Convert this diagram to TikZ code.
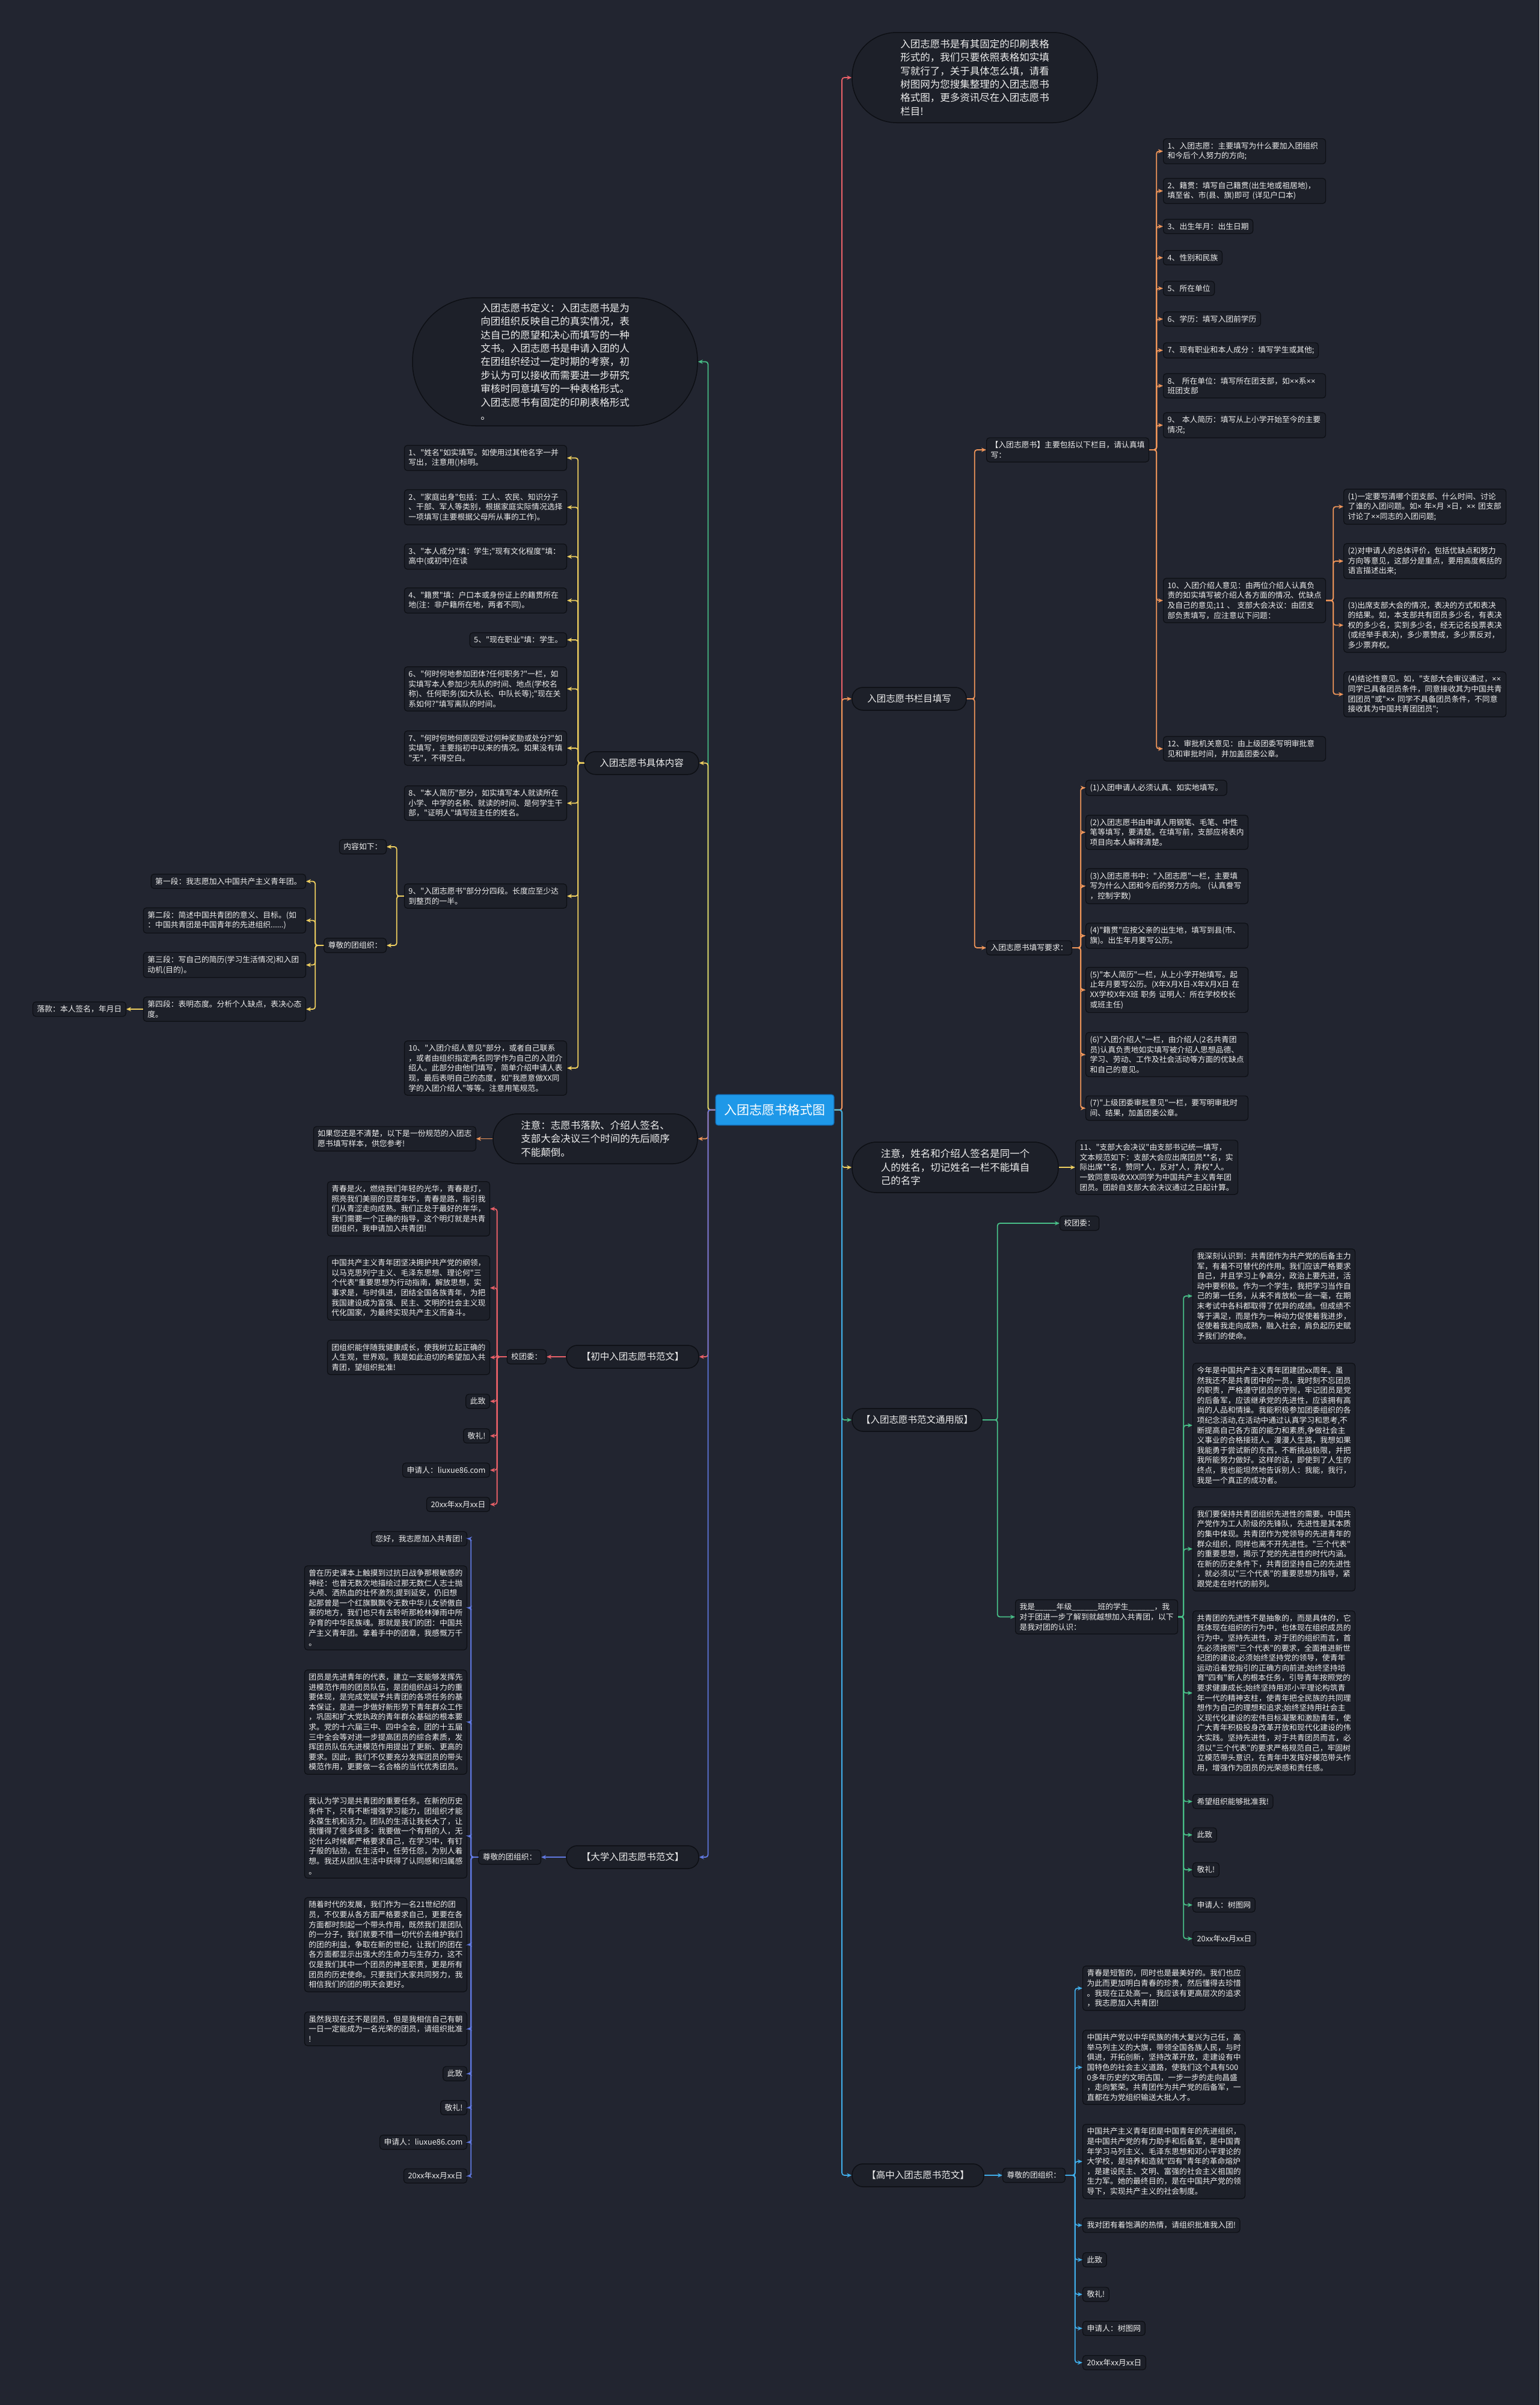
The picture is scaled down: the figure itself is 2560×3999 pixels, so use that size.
\documentclass[tikz,border=0pt]{standalone}
\usepackage{fontspec}
\setmainfont{Noto Sans CJK SC}[Ligatures=TeXOff]
\newfontfamily\latinfont{Liberation Sans}
\newcommand\tm{{\latinfont ×}}
\usetikzlibrary{arrows.meta}
\definecolor{bg}{RGB}{34,37,48}
\definecolor{boxfill}{RGB}{29,32,41}
\definecolor{boxline}{RGB}{13,15,20}
\definecolor{txt}{RGB}{238,238,238}
\definecolor{rootfill}{RGB}{30,152,232}
\definecolor{rootline}{RGB}{18,100,170}
\definecolor{cRed}{RGB}{232,96,104}
\definecolor{cOrange}{RGB}{240,150,90}
\definecolor{cYellow}{RGB}{240,208,96}
\definecolor{cGreen}{RGB}{72,190,135}
\definecolor{cBlue}{RGB}{64,172,232}
\definecolor{cPurple}{RGB}{96,120,224}
\newcommand\fsmall{\fontsize{12.8pt}{16.6pt}\selectfont}
\newcommand\fmid{\fontsize{15.5pt}{20pt}\selectfont}
\newcommand\fbig{\fontsize{16.5pt}{22.4pt}\selectfont}
\newcommand\froot{\fontsize{21pt}{26pt}\selectfont}
\tikzset{
  box/.style={draw=boxline, fill=boxfill, rounded corners=5pt, line width=1.2pt, text=txt, font=\fsmall, inner xsep=7pt, inner ysep=6pt, align=left},
  wbox/.style={box, text width=256pt},
  bubble/.style={draw=boxline, fill=boxfill, line width=1.5pt, text=txt, font=\fbig, align=left, inner sep=0pt},
  pill/.style={draw=boxline, fill=boxfill, line width=1.5pt, text=txt, font=\fmid, minimum height=38pt, rounded corners=18pt, inner xsep=10pt, inner ysep=0pt},
  rootnode/.style={draw=rootline, fill=rootfill, line width=1.2pt, text=white, font=\froot, minimum width=197pt, minimum height=51pt, rounded corners=4pt},
  link/.style={line width=1.8pt, rounded corners=4pt, -{Stealth[length=8pt,width=7pt]}}
}
\begin{document}
\begin{tikzpicture}[x=1pt,y=-1pt]
\fill[bg] (0,0) rectangle (2560,3999);
\useasboundingbox (0,0) rectangle (2560,3999);

% ---------- root ----------
\node[rootnode] (root) at (1288.5,1845.5) {入团志愿书格式图};

% ---------- right level 1 ----------
\node[bubble, minimum width=408pt, minimum height=150pt, rounded corners=74pt] (r1) at (1621,129) {入团志愿书是有其固定的印刷表格\\形式的，我们只要依照表格如实填\\写就行了，关于具体怎么填，请看\\树图网为您搜集整理的入团志愿书\\格式图，更多资讯尽在入团志愿书\\栏目!};
\node[pill, minimum width=190pt] (r2) at (1512,1162) {入团志愿书栏目填写};
\node[bubble, minimum width=343pt, minimum height=84pt, rounded corners=41pt] (r3) at (1588.5,1941) {注意，姓名和介绍人签名是同一个\\人的姓名，切记姓名一栏不能填自\\己的名字};
\node[pill, minimum width=216pt] (r4) at (1525,2361) {【入团志愿书范文通用版】};
\node[pill, minimum width=219pt] (r5) at (1526.5,3617) {【高中入团志愿书范文】};

% ---------- left level 1 ----------
\node[bubble, minimum width=474pt, minimum height=213pt, rounded corners=105pt] (l1) at (923,601.5) {入团志愿书定义：入团志愿书是为\\向团组织反映自己的真实情况，表\\达自己的愿望和决心而填写的一种\\文书。入团志愿书是申请入团的人\\在团组织经过一定时期的考察，初\\步认为可以接收而需要进一步研究\\审核时同意填写的一种表格形式。\\入团志愿书有固定的印刷表格形式\\。};
\node[pill, minimum width=190pt] (l2) at (1067,1268.75) {入团志愿书具体内容};
\node[bubble, minimum width=340pt, minimum height=83pt, rounded corners=41pt] (l3) at (990,1893.5) {注意：志愿书落款、介绍人签名、\\支部大会决议三个时间的先后顺序\\不能颠倒。};
\node[pill, minimum width=220pt] (l4) at (1052,2256) {【初中入团志愿书范文】};
\node[pill, minimum width=220pt] (l5) at (1052,3088) {【大学入团志愿书范文】};

% ---------- R2 subtree ----------
\node[wbox, anchor=west] (r2a) at (1640,748) {【入团志愿书】主要包括以下栏目，请认真填\\写：};
\node[box, anchor=west] (r2b) at (1640,1576) {入团志愿书填写要求：};

\node[wbox, anchor=west] (ra1) at (1934,251.5) {1、入团志愿：主要填写为什么要加入团组织\\和今后个人努力的方向;};
\node[wbox, anchor=west] (ra2) at (1934,317.5) {2、籍贯：填写自己籍贯(出生地或祖居地)，\\填至省、市(县、旗)即可 (详见户口本)};
\node[box, anchor=west] (ra3) at (1934,376.5) {3、出生年月：出生日期};
\node[box, anchor=west] (ra4) at (1934,428.5) {4、性别和民族};
\node[box, anchor=west] (ra5) at (1934,479.5) {5、所在单位};
\node[box, anchor=west] (ra6) at (1934,530.5) {6、学历：填写入团前学历};
\node[box, anchor=west] (ra7) at (1934,582.5) {7、现有职业和本人成分 ：填写学生或其他;};
\node[wbox, anchor=west] (ra8) at (1934,641.5) {8、 所在单位：填写所在团支部，如\tm\tm 系\tm\tm\\班团支部};
\node[wbox, anchor=west] (ra9) at (1934,707) {9、 本人简历：填写从上小学开始至今的主要\\情况;};
\node[wbox, anchor=west] (ra10) at (1934,998.5) {10、入团介绍人意见：由两位介绍人认真负\\责的如实填写被介绍人各方面的情况、优缺点\\及自己的意见;11 、 支部大会决议：由团支\\部负责填写，应注意以下问题：};
\node[wbox, anchor=west] (ra12) at (1934,1245) {12、审批机关意见：由上级团委写明审批意\\见和审批时间，并加盖团委公章。};

\node[wbox, anchor=west] (sb1) at (2234,842.5) {(1)一定要写清哪个团支部、什么时间、讨论\\了谁的入团问题。如\tm\ 年\tm 月 \tm 日，\tm\tm\ 团支部\\讨论了\tm\tm 同志的入团问题;};
\node[wbox, anchor=west] (sb2) at (2234,933) {(2)对申请人的总体评价，包括优缺点和努力\\方向等意见，这部分是重点，要用高度概括的\\语言描述出来;};
\node[wbox, anchor=west] (sb3) at (2234,1039.5) {(3)出席支部大会的情况，表决的方式和表决\\的结果。如，本支部共有团员多少名，有表决\\权的多少名，实到多少名，经无记名投票表决\\(或经举手表决)，多少票赞成，多少票反对，\\多少票弃权。};
\node[wbox, anchor=west] (sb4) at (2234,1154.5) {(4)结论性意见。如，"支部大会审议通过，\tm\tm\\同学已具备团员条件，同意接收其为中国共青\\团团员"或"\tm\tm\ 同学不具备团员条件，不同意\\接收其为中国共青团团员";};

\node[box, anchor=west] (rb1) at (1805,1310) {(1)入团申请人必须认真、如实地填写。};
\node[wbox, anchor=west] (rb2) at (1805,1384) {(2)入团志愿书由申请人用钢笔、毛笔、中性\\笔等填写，要清楚。在填写前，支部应将表内\\项目向本人解释清楚。};
\node[wbox, anchor=west] (rb3) at (1805,1473.5) {(3)入团志愿书中："入团志愿"一栏，主要填\\写为什么入团和今后的努力方向。 (认真誊写\\，控制字数)};
\node[wbox, anchor=west] (rb4) at (1805,1556) {(4)"籍贯"应按父亲的出生地，填写到县(市、\\旗)。出生年月要写公历。};
\node[wbox, anchor=west] (rb5) at (1805,1646) {(5)"本人简历"一栏，从上小学开始填写。起\\止年月要写公历。(X年X月X日-X年X月X日 在\\XX学校X年X班 职务  证明人：所在学校校长\\或班主任)};
\node[wbox, anchor=west] (rb6) at (1805,1753.5) {(6)"入团介绍人"一栏，由介绍人(2名共青团\\员)认真负责地如实填写被介绍人思想品德、\\学习、劳动、工作及社会活动等方面的优缺点\\和自己的意见。};
\node[wbox, anchor=west] (rb7) at (1805,1842.5) {(7)"上级团委审批意见"一栏，要写明审批时\\间、结果，加盖团委公章。};

% ---------- R3 child ----------
\node[wbox, anchor=west] (r3c) at (1788,1941) {11、"支部大会决议"由支部书记统一填写，\\文本规范如下：支部大会应出席团员**名，实\\际出席**名，赞同*人，反对*人，弃权*人。\\一致同意吸收XXX同学为中国共产主义青年团\\团员。团龄自支部大会决议通过之日起计算。};

% ---------- R4 subtree ----------
\node[box, anchor=west] (x4) at (1762,2034) {校团委：};
\node[wbox, anchor=west] (y4) at (1688,2688.5) {我是\_\_\_\_\_年级\_\_\_\_\_\_班的学生\_\_\_\_\_\_，我\\对于团进一步了解到就越想加入共青团，以下\\是我对团的认识：};
\node[wbox, anchor=west] (p1) at (1983,2155) {我深刻认识到：共青团作为共产党的后备主力\\军，有着不可替代的作用。我们应该严格要求\\自己，并且学习上争高分，政治上要先进，活\\动中要积极。作为一个学生，我把学习当作自\\己的第一任务，从来不肯放松一丝一毫，在期\\末考试中各科都取得了优异的成绩。但成绩不\\等于满足，而是作为一种动力促使着我进步，\\促使着我走向成熟，融入社会，肩负起历史赋\\予我们的使命。};
\node[wbox, anchor=west] (p2) at (1983,2370) {今年是中国共产主义青年团建团xx周年。虽\\然我还不是共青团中的一员，我时刻不忘团员\\的职责，严格遵守团员的守则，牢记团员是党\\的后备军，应该继承党的先进性，应该拥有高\\尚的人品和情操。我能积极参加团委组织的各\\项纪念活动,在活动中通过认真学习和思考,不\\断提高自己各方面的能力和素质,争做社会主\\义事业的合格接班人。漫漫人生路，我想如果\\我能勇于尝试新的东西，不断挑战极限，并把\\我所能努力做好。这样的话，即使到了人生的\\终点，我也能坦然地告诉别人：我能，我行，\\我是一个真正的成功者。};
\node[wbox, anchor=west] (p3) at (1983,2575.5) {我们要保持共青团组织先进性的需要。中国共\\产党作为工人阶级的先锋队，先进性是其本质\\的集中体现。共青团作为党领导的先进青年的\\群众组织，同样也离不开先进性。"三个代表"\\的重要思想，揭示了党的先进性的时代内涵。\\在新的历史条件下，共青团坚持自己的先进性\\，就必须以"三个代表"的重要思想为指导，紧\\跟党走在时代的前列。};
\node[wbox, anchor=west] (p4) at (1983,2815) {共青团的先进性不是抽象的，而是具体的，它\\既体现在组织的行为中，也体现在组织成员的\\行为中。坚持先进性，对于团的组织而言，首\\先必须按照"三个代表"的要求，全面推进新世\\纪团的建设;必须始终坚持党的领导，使青年\\运动沿着党指引的正确方向前进;始终坚持培\\育"四有"新人的根本任务，引导青年按照党的\\要求健康成长;始终坚持用邓小平理论构筑青\\年一代的精神支柱，使青年把全民族的共同理\\想作为自己的理想和追求;始终坚持用社会主\\义现代化建设的宏伟目标凝聚和激励青年，使\\广大青年积极投身改革开放和现代化建设的伟\\大实践。坚持先进性，对于共青团员而言，必\\须以"三个代表"的要求严格规范自己，牢固树\\立模范带头意识，在青年中发挥好模范带头作\\用，增强作为团员的光荣感和责任感。};
\node[box, anchor=west] (p5) at (1983,2995.5) {希望组织能够批准我!};
\node[box, anchor=west] (p6) at (1983,3051) {此致};
\node[box, anchor=west] (p7) at (1983,3109) {敬礼!};
\node[box, anchor=west] (p8) at (1983,3167.5) {申请人：树图网};
\node[box, anchor=west] (p9) at (1983,3223.5) {20xx年xx月xx日};

% ---------- R5 subtree ----------
\node[box, anchor=west] (z5) at (1667,3617) {尊敬的团组织：};
\node[wbox, anchor=west] (b1) at (1800,3306) {青春是短暂的，同时也是最美好的。我们也应\\为此而更加明白青春的珍贵，然后懂得去珍惜\\。我现在正处高一，我应该有更高层次的追求\\，我志愿加入共青团!};
\node[wbox, anchor=west] (b2) at (1800,3437.5) {中国共产党以中华民族的伟大复兴为己任，高\\举马列主义的大旗，带领全国各族人民，与时\\俱进，开拓创新，坚持改革开放，走建设有中\\国特色的社会主义道路，使我们这个具有500\\0多年历史的文明古国，一步一步的走向昌盛\\，走向繁荣。共青团作为共产党的后备军，一\\直都在为党组织输送大批人才。};
\node[wbox, anchor=west] (b3) at (1800,3594) {中国共产主义青年团是中国青年的先进组织，\\是中国共产党的有力助手和后备军，是中国青\\年学习马列主义、毛泽东思想和邓小平理论的\\大学校，是培养和造就"四有"青年的革命熔炉\\，是建设民主、文明、富强的社会主义祖国的\\生力军。她的最终目的，是在中国共产党的领\\导下，实现共产主义的社会制度。};
\node[box, anchor=west] (b4) at (1800,3700) {我对团有着饱满的热情，请组织批准我入团!};
\node[box, anchor=west] (b5) at (1800,3757.5) {此致};
\node[box, anchor=west] (b6) at (1800,3815) {敬礼!};
\node[box, anchor=west] (b7) at (1800,3871.5) {申请人：树图网};
\node[box, anchor=west] (b8) at (1800,3928.5) {20xx年xx月xx日};

% ---------- L2 subtree ----------
\node[wbox, anchor=east] (a1) at (943,761.5) {1、"姓名"如实填写。如使用过其他名字一并\\写出，注意用()标明。};
\node[wbox, anchor=east] (a2) at (943,843.5) {2、"家庭出身"包括：工人、农民、知识分子\\、干部、军人等类别，根据家庭实际情况选择\\一项填写(主要根据父母所从事的工作)。};
\node[wbox, anchor=east] (a3) at (943,925.5) {3、"本人成分"填：学生;"现有文化程度"填：\\高中(或初中)在读};
\node[wbox, anchor=east] (a4) at (943,998.5) {4、"籍贯"填：户口本或身份证上的籍贯所在\\地(注：非户籍所在地，两者不同)。};
\node[box, anchor=east] (a5) at (943,1064) {5、"现在职业"填：学生。};
\node[wbox, anchor=east] (a6) at (943,1145.5) {6、"何时何地参加团体?任何职务?"一栏，如\\实填写本人参加少先队的时间、地点(学校名\\称)、任何职务(如大队长、中队长等);"现在关\\系如何?"填写离队的时间。};
\node[wbox, anchor=east] (a7) at (943,1244) {7、"何时何地何原因受过何种奖励或处分?"如\\实填写，主要指初中以来的情况。如果没有填\\"无"，不得空白。};
\node[wbox, anchor=east] (a8) at (943,1335.5) {8、"本人简历"部分，如实填写本人就读所在\\小学、中学的名称、就读的时间、是何学生干\\部，"证明人"填写班主任的姓名。};
\node[wbox, anchor=east] (a9) at (943,1490) {9、"入团志愿书"部分分四段。长度应至少达\\到整页的一半。};
\node[wbox, anchor=east] (a10) at (943,1776) {10、"入团介绍人意见"部分，或者自己联系\\，或者由组织指定两名同学作为自己的入团介\\绍人。此部分由他们填写，简单介绍申请人表\\现，最后表明自己的态度，如"我愿意做XX同\\学的入团介绍人"等等。注意用笔规范。};

\node[box, anchor=east] (k1) at (643,1408) {内容如下：};
\node[box, anchor=east] (k2) at (643,1572) {尊敬的团组织：};
\node[box, anchor=east] (d1) at (509,1465.5) {第一段：我志愿加入中国共产主义青年团。};
\node[wbox, anchor=east] (d2) at (509,1530.5) {第二段：简述中国共青团的意义、目标。(如\\：中国共青团是中国青年的先进组织......)};
\node[wbox, anchor=east] (d3) at (509,1604.5) {第三段：写自己的简历(学习生活情况)和入团\\动机(目的)。};
\node[wbox, anchor=east] (d4) at (509,1678) {第四段：表明态度。分析个人缺点，表决心态\\度。};
\node[box, anchor=east] (d5) at (210,1678) {落款：本人签名，年月日};

% ---------- L3 child ----------
\node[wbox, anchor=east] (l3c) at (792,1893.5) {如果您还是不清楚，以下是一份规范的入团志\\愿书填写样本，供您参考!};

% ---------- L4 subtree ----------
\node[box, anchor=east] (x1) at (909,2256) {校团委：};
\node[wbox, anchor=east] (c1) at (815,2010) {青春是火，燃烧我们年轻的光华，青春是灯，\\照亮我们美丽的豆蔻年华，青春是路，指引我\\们从青涩走向成熟。我们正处于最好的年华，\\我们需要一个正确的指导，这个明灯就是共青\\团组织，我申请加入共青团!};
\node[wbox, anchor=east] (c2) at (815,2141.5) {中国共产主义青年团坚决拥护共产党的纲领，\\以马克思列宁主义、毛泽东思想、理论何"三\\个代表"重要思想为行动指南，解放思想，实\\事求是，与时俱进，团结全国各族青年，为把\\我国建设成为富强、民主、文明的社会主义现\\代化国家，为最终实现共产主义而奋斗。};
\node[wbox, anchor=east] (c3) at (815,2257) {团组织能伴随我健康成长，使我树立起正确的\\人生观，世界观。我是如此迫切的希望加入共\\青团，望组织批准!};
\node[box, anchor=east] (c4) at (815,2330) {此致};
\node[box, anchor=east] (c5) at (815,2387.5) {敬礼!};
\node[box, anchor=east] (c6) at (815,2444.5) {申请人：liuxue86.com};
\node[box, anchor=east] (c7) at (815,2501.5) {20xx年xx月xx日};

% ---------- L5 subtree ----------
\node[box, anchor=east] (z1) at (900,3088) {尊敬的团组织：};
\node[box, anchor=east] (e0) at (777,2558.5) {您好，我志愿加入共青团!};
\node[wbox, anchor=east] (e1) at (777,2673.5) {曾在历史课本上触摸到过抗日战争那根敏感的\\神经：也曾无数次地描绘过那无数仁人志士抛\\头颅、洒热血的壮怀激烈;提到延安，仍旧想\\起那曾是一个红旗飘飘令无数中华儿女骄傲自\\豪的地方，我们也只有去聆听那枪林弹雨中所\\孕育的中华民族魂。那就是我们的团：中国共\\产主义青年团。拿着手中的团章，我感慨万千\\。};
\node[wbox, anchor=east] (e2) at (777,2863.5) {团员是先进青年的代表，建立一支能够发挥先\\进模范作用的团员队伍，是团组织战斗力的重\\要体现，是完成党赋予共青团的各项任务的基\\本保证，是进一步做好新形势下青年群众工作\\，巩固和扩大党执政的青年群众基础的根本要\\求。党的十六届三中、四中全会，团的十五届\\三中全会等对进一步提高团员的综合素质，发\\挥团员队伍先进模范作用提出了更新、更高的\\要求。因此，我们不仅要充分发挥团员的带头\\模范作用，更要做一名合格的当代优秀团员。};
\node[wbox, anchor=east] (e3) at (777,3053) {我认为学习是共青团的重要任务。在新的历史\\条件下，只有不断增强学习能力，团组织才能\\永葆生机和活力。团队的生活让我长大了，让\\我懂得了很多很多：我要做一个有用的人，无\\论什么时候都严格要求自己，在学习中，有钉\\子般的钻劲，在生活中，任劳任怨，为别人着\\想。我还从团队生活中获得了认同感和归属感\\。};
\node[wbox, anchor=east] (e4) at (777,3233.5) {随着时代的发展，我们作为一名21世纪的团\\员，不仅要从各方面严格要求自己，更要在各\\方面都时刻起一个带头作用，既然我们是团队\\的一分子，我们就要不惜一切代价去维护我们\\的团的利益，争取在新的世纪，让我们的团在\\各方面都显示出强大的生命力与生存力，这不\\仅是我们其中一个团员的神圣职责，更是所有\\团员的历史使命。只要我们大家共同努力，我\\相信我们的团的明天会更好。};
\node[wbox, anchor=east] (e5) at (777,3373.5) {虽然我现在还不是团员，但是我相信自己有朝\\一日一定能成为一名光荣的团员，请组织批准\\!};
\node[box, anchor=east] (e6) at (777,3448) {此致};
\node[box, anchor=east] (e7) at (777,3504.5) {敬礼!};
\node[box, anchor=east] (e8) at (777,3562) {申请人：liuxue86.com};
\node[box, anchor=east] (e9) at (777,3618) {20xx年xx月xx日};

% ================= connectors =================
% root -> right
\draw[link, cRed] (root.east) -- ++(12.5,0) |- (r1.west);
\draw[link, cOrange] (root.east) -- ++(12.5,0) |- (r2.west);
\draw[link, cYellow] (root.east) -- ++(12.5,0) |- (r3.west);
\draw[link, cGreen] (root.east) -- ++(12.5,0) |- (r4.west);
\draw[link, cBlue] (root.east) -- ++(12.5,0) |- (r5.west);
% root -> left
\draw[link, cGreen] (root.west) -- ++(-12,0) |- (l1.east);
\draw[link, cYellow] (root.west) -- ++(-12,0) |- (l2.east);
\draw[link, cOrange] (root.west) -- ++(-12,0) |- (l3.east);
\draw[link, cRed] (root.west) -- ++(-12,0) |- (l4.east);
\draw[link, cPurple] (root.west) -- ++(-12,0) |- (l5.east);

% R2
\draw[link, cOrange] (r2.east) -- ++(13,0) |- (r2a.west);
\draw[link, cOrange] (r2.east) -- ++(13,0) |- (r2b.west);
\foreach \n in {ra1,ra2,ra3,ra4,ra5,ra6,ra7,ra8,ra9,ra10,ra12}
  \draw[link, cOrange] (r2a.east) -- ++(12,0) |- (\n.west);
\foreach \n in {sb1,sb2,sb3,sb4}
  \draw[link, cOrange] (ra10.east) -- ++(12,0) |- (\n.west);
\foreach \n in {rb1,rb2,rb3,rb4,rb5,rb6,rb7}
  \draw[link, cOrange] (r2b.east) -- ++(14,0) |- (\n.west);
% R3
\draw[link, cYellow] (r3.east) -- (r3c.west);
% R4
\draw[link, cGreen] (r4.east) -- ++(25,0) |- (x4.west);
\draw[link, cGreen] (r4.east) -- ++(25,0) |- (y4.west);
\foreach \n in {p1,p2,p3,p4,p5,p6,p7,p8,p9}
  \draw[link, cGreen] (y4.east) -- ++(9,0) |- (\n.west);
% R5
\draw[link, cBlue] (r5.east) -- (z5.west);
\foreach \n in {b1,b2,b3,b4,b5,b6,b7,b8}
  \draw[link, cBlue] (z5.east) -- ++(16,0) |- (\n.west);

% L2
\foreach \n in {a1,a2,a3,a4,a5,a6,a7,a8,a9,a10}
  \draw[link, cYellow] (l2.west) -- ++(-10,0) |- (\n.east);
\draw[link, cYellow] (a9.west) -- ++(-12,0) |- (k1.east);
\draw[link, cYellow] (a9.west) -- ++(-12,0) |- (k2.east);
\foreach \n in {d1,d2,d3,d4}
  \draw[link, cYellow] (k2.west) -- ++(-14,0) |- (\n.east);
\draw[link, cYellow] (d4.west) -- (d5.east);
% L3
\draw[link, cOrange] (l3.west) -- (l3c.east);
% L4
\draw[link, cRed] (l4.west) -- (x1.east);
\foreach \n in {c1,c2,c3,c4,c5,c6,c7}
  \draw[link, cRed] (x1.west) -- ++(-16,0) |- (\n.east);
% L5
\draw[link, cPurple] (l5.west) -- (z1.east);
\foreach \n in {e0,e1,e2,e3,e4,e5,e6,e7,e8,e9}
  \draw[link, cPurple] (z1.west) -- ++(-12,0) |- (\n.east);
\end{tikzpicture}
\end{document}
